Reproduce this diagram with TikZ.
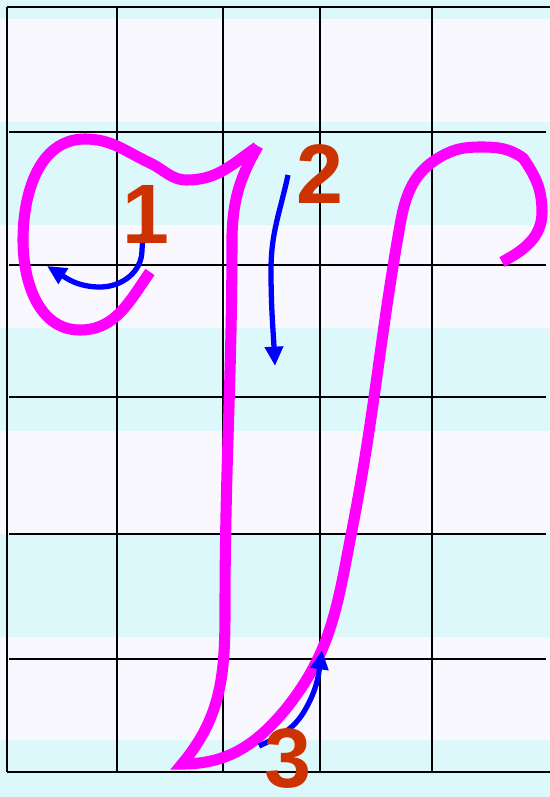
\documentclass[tikz,border=0pt]{standalone}
\usepackage{fontspec}
\setmainfont{Liberation Sans}
\usetikzlibrary{arrows.meta}
\definecolor{StripeCyan}{HTML}{DDF8FB}
\definecolor{StripeWhite}{HTML}{F8F8FE}
\definecolor{Ink}{HTML}{FF00FF}
\definecolor{Guide}{HTML}{0000FF}
\definecolor{Numeral}{HTML}{CC3300}

\begin{document}
\begin{tikzpicture}[
    x=0.02cm, y=-0.02cm,
    rule/.style={black, line width=1.1pt},
    letter/.style={Ink, line width=6.3pt},
    guide/.style={Guide, line width=3pt, -{Triangle[length=11pt, width=10pt]}},
    numeral/.style={text=Numeral, inner sep=0pt, font=\fontsize{48}{48}\selectfont\bfseries},
]
\useasboundingbox (0,0) rectangle (550,797);

% === Ruled background ===
\fill[StripeCyan] (0,0) rectangle (550,797);
\foreach \y in {19,225,431,637}
    \fill[StripeWhite] (0,\y) rectangle (550,\y+103);

% === Grid ===
\foreach \x in {7,117,223,320,432}
    \draw[rule] (\x,7) -- (\x,772);
\foreach \y in {132,265,397,534,659}
    \draw[rule] (9,\y) -- (546,\y);
\draw[rule] (7,7) -- (550,7);
\draw[rule] (7,772) -- (550,772);

% === Letter strokes ===
% left loop and top bar
\draw[letter] (150,272) to[out=-125,in=0] (80,330) to[out=180,in=-90] (23,240)
    to[out=90,in=180] (85,139) to[out=0,in=155] (150,163)
    to[out=-25,in=180] (187,180) to[out=0,in=-145] (257,147);

% downstroke, hairpin and upstroke with right hook
\draw[letter] (258,146) to[out=-120,in=88] (232,235) to[out=-90,in=90] (225,610)
    to[out=-90,in=50] (182,764) to[out=0,in=-130] (285,710)
    to[out=51,in=-101] (352,530) to[out=79,in=-100] (400,225)
    to[out=80,in=-150] (440,157) to[out=30,in=180] (481,147)
    to[out=0,in=145] (523,158) to[out=-55,in=90] (542,212)
    to[out=-90,in=28] (502,262);

% === Direction guides ===
\draw[guide] (143,234) -- (142,250) to[out=-90,in=0] (100,287) to[out=180,in=-32] (47,266);
\draw[guide] (288,175) to[out=-102,in=90] (271,270) to[out=-90,in=93] (275,366);
\draw[guide] (259,746) to[out=25,in=-120] (305,710) to[out=60,in=-98] (322,650);

% === Stroke numbers ===
\node[numeral] (one) at (146,214) {1};
\node[numeral] (two) at (320,174) {2};
\node[numeral] (three) at (288,759) {3};

\end{tikzpicture}
\end{document}
